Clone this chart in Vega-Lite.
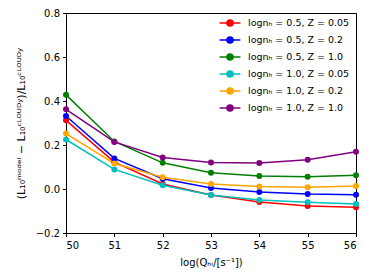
{
  "$schema": "https://vega.github.io/schema/vega-lite/v6.json",
  "width": 290,
  "height": 220,
  "autosize": "none",
  "padding": {"left": 66, "top": 13, "right": 18, "bottom": 47},
  "config": {
    "font": "DejaVu Sans",
    "view": {"stroke": "black", "strokeWidth": 1},
    "axis": {"grid": false, "domainColor": "black", "tickColor": "black", "labelColor": "black", "titleColor": "black", "labelFontSize": 10, "titleFontSize": 10, "titleFontWeight": "normal", "tickSize": 3.5, "labelPadding": 4}
  },
  "data": {"values": [
    {"q": 50, "v": 0.312, "s": "lognₕ = 0.5,  Z = 0.05"},
    {"q": 51, "v": 0.122, "s": "lognₕ = 0.5,  Z = 0.05"},
    {"q": 52, "v": 0.023, "s": "lognₕ = 0.5,  Z = 0.05"},
    {"q": 53, "v": -0.027, "s": "lognₕ = 0.5,  Z = 0.05"},
    {"q": 54, "v": -0.059, "s": "lognₕ = 0.5,  Z = 0.05"},
    {"q": 55, "v": -0.077, "s": "lognₕ = 0.5,  Z = 0.05"},
    {"q": 56, "v": -0.083, "s": "lognₕ = 0.5,  Z = 0.05"},
    {"q": 50, "v": 0.332, "s": "lognₕ = 0.5,  Z = 0.2"},
    {"q": 51, "v": 0.139, "s": "lognₕ = 0.5,  Z = 0.2"},
    {"q": 52, "v": 0.047, "s": "lognₕ = 0.5,  Z = 0.2"},
    {"q": 53, "v": 0.005, "s": "lognₕ = 0.5,  Z = 0.2"},
    {"q": 54, "v": -0.014, "s": "lognₕ = 0.5,  Z = 0.2"},
    {"q": 55, "v": -0.023, "s": "lognₕ = 0.5,  Z = 0.2"},
    {"q": 56, "v": -0.026, "s": "lognₕ = 0.5,  Z = 0.2"},
    {"q": 50, "v": 0.428, "s": "lognₕ = 0.5,  Z = 1.0"},
    {"q": 51, "v": 0.216, "s": "lognₕ = 0.5,  Z = 1.0"},
    {"q": 52, "v": 0.119, "s": "lognₕ = 0.5,  Z = 1.0"},
    {"q": 53, "v": 0.074, "s": "lognₕ = 0.5,  Z = 1.0"},
    {"q": 54, "v": 0.059, "s": "lognₕ = 0.5,  Z = 1.0"},
    {"q": 55, "v": 0.056, "s": "lognₕ = 0.5,  Z = 1.0"},
    {"q": 56, "v": 0.062, "s": "lognₕ = 0.5,  Z = 1.0"},
    {"q": 50, "v": 0.225, "s": "lognₕ = 1.0,  Z = 0.05"},
    {"q": 51, "v": 0.089, "s": "lognₕ = 1.0,  Z = 0.05"},
    {"q": 52, "v": 0.017, "s": "lognₕ = 1.0,  Z = 0.05"},
    {"q": 53, "v": -0.027, "s": "lognₕ = 1.0,  Z = 0.05"},
    {"q": 54, "v": -0.050, "s": "lognₕ = 1.0,  Z = 0.05"},
    {"q": 55, "v": -0.060, "s": "lognₕ = 1.0,  Z = 0.05"},
    {"q": 56, "v": -0.068, "s": "lognₕ = 1.0,  Z = 0.05"},
    {"q": 50, "v": 0.252, "s": "lognₕ = 1.0,  Z = 0.2"},
    {"q": 51, "v": 0.116, "s": "lognₕ = 1.0,  Z = 0.2"},
    {"q": 52, "v": 0.053, "s": "lognₕ = 1.0,  Z = 0.2"},
    {"q": 53, "v": 0.023, "s": "lognₕ = 1.0,  Z = 0.2"},
    {"q": 54, "v": 0.011, "s": "lognₕ = 1.0,  Z = 0.2"},
    {"q": 55, "v": 0.008, "s": "lognₕ = 1.0,  Z = 0.2"},
    {"q": 56, "v": 0.014, "s": "lognₕ = 1.0,  Z = 0.2"},
    {"q": 50, "v": 0.362, "s": "lognₕ = 1.0,  Z = 1.0"},
    {"q": 51, "v": 0.214, "s": "lognₕ = 1.0,  Z = 1.0"},
    {"q": 52, "v": 0.143, "s": "lognₕ = 1.0,  Z = 1.0"},
    {"q": 53, "v": 0.120, "s": "lognₕ = 1.0,  Z = 1.0"},
    {"q": 54, "v": 0.118, "s": "lognₕ = 1.0,  Z = 1.0"},
    {"q": 55, "v": 0.133, "s": "lognₕ = 1.0,  Z = 1.0"},
    {"q": 56, "v": 0.169, "s": "lognₕ = 1.0,  Z = 1.0"}
  ]},
  "mark": {"type": "line", "strokeWidth": 1.5, "point": {"filled": true, "size": 36}},
  "encoding": {
    "x": {"field": "q", "type": "quantitative", "scale": {"domain": [50, 56], "nice": false, "zero": false},
      "axis": {"values": [50, 51, 52, 53, 54, 55, 56], "format": "d", "title": "log(Qₕᵢ/[s⁻¹])", "titlePadding": 7}},
    "y": {"field": "v", "type": "quantitative", "scale": {"domain": [-0.2, 0.8], "nice": false},
      "axis": {"values": [-0.2, 0, 0.2, 0.4, 0.6, 0.8], "format": ".1f", "title": "(L₁₀ᵐᵒᵈᵉˡ − L₁₀ᶜᴸᴼᵁᴰʸ)/L₁₀ᶜᴸᴼᵁᴰʸ", "titlePadding": 9, "titleFontSize": 11, "labelPadding": 3}},
    "color": {"field": "s", "type": "nominal", "sort": null,
      "scale": {"domain": ["lognₕ = 0.5,  Z = 0.05", "lognₕ = 0.5,  Z = 0.2", "lognₕ = 0.5,  Z = 1.0", "lognₕ = 1.0,  Z = 0.05", "lognₕ = 1.0,  Z = 0.2", "lognₕ = 1.0,  Z = 1.0"],
        "range": ["#ff0000", "#0000ff", "#008000", "#00bfbf", "#ffa500", "#800080"]},
      "legend": {"title": null, "orient": "top-right", "offset": 0, "labelFontSize": 9.5, "labelColor": "black", "padding": 3, "rowPadding": 3, "labelOffset": 11, "symbolType": "M-1.7,0H1.7M0.5,0A0.5,0.5,0,1,1,-0.5,0A0.5,0.5,0,1,1,0.5,0Z", "symbolSize": 150, "symbolStrokeWidth": 1.5}}
  }
}
